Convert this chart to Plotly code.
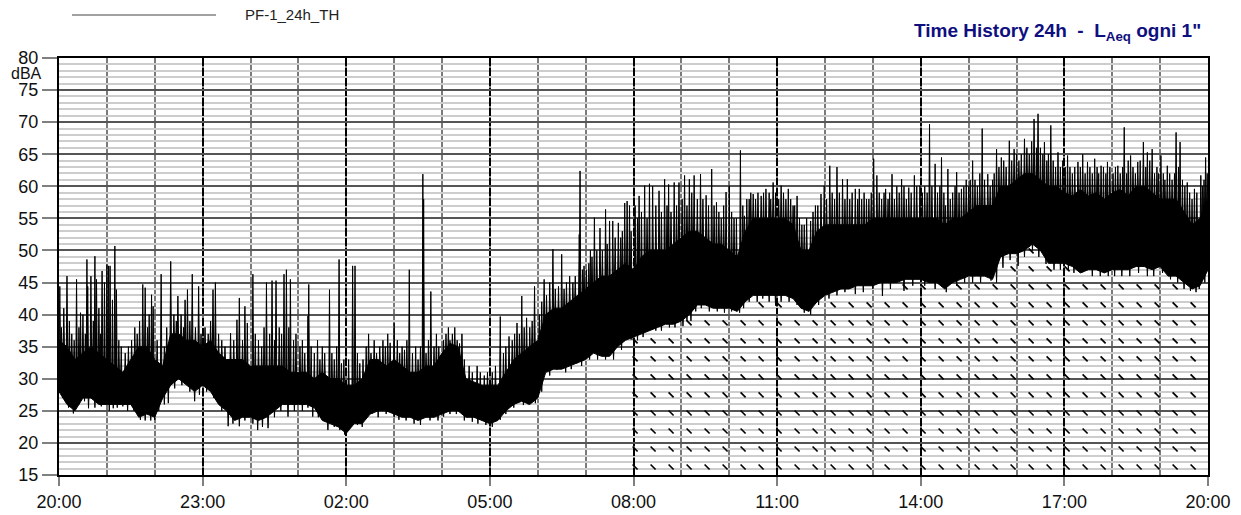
import numpy as np
import plotly.graph_objects as go

# ---------------- data ----------------
# 10-minute envelope (lower edge / top of the dense core) of the 1-second LAeq record,
# 20:00 -> 20:00 (145 samples)
band_lo = [28, 26, 25, 27, 27, 26, 26, 26, 26, 26, 24, 24.5, 24, 27, 29, 30, 29, 28,
           29, 28, 26, 25, 23.5, 24, 24, 23.5, 24, 25, 26, 26, 26, 26, 25.5, 23.5, 23, 22.5,
           21.5, 23, 23, 24.5, 25, 25, 24.5, 24, 24, 23.5, 24, 24, 24.5, 25, 25, 24, 24, 23.5,
           23, 23.5, 25, 26, 26.5, 26, 27, 31, 31.5, 31.5, 32, 32.5, 33, 34, 33.5, 33.5, 35, 36,
           36.5, 37, 37.5, 38, 38.5, 38.5, 39, 40, 41.5, 41.5, 41, 41, 41, 40.5, 42, 43, 43, 43,
           43, 43, 42.5, 41, 40.5, 42, 43, 43.5, 44, 44, 44.5, 44.5, 44.5, 45, 45, 45, 45.5, 45.5,
           45.5, 45, 45, 44, 45, 45.5, 46, 46, 46, 45.5, 49, 49.5, 49.5, 50, 51, 50, 48, 48,
           48, 47.5, 46.5, 47, 47, 46.5, 47, 47, 47, 47.5, 47.5, 47, 47.5, 46, 46, 45, 44, 44.5,
           47]
band_core = [36, 35, 33, 34, 35, 34, 33, 32, 31, 33, 35, 35, 33, 32, 37, 37, 36, 36,
             35, 36, 34, 33, 33, 33, 32, 32, 32, 32, 32, 31, 31, 31, 30, 31, 30, 30,
             29, 29, 30, 33, 33, 32, 33, 32, 31, 31, 32, 32, 34, 35.5, 35, 30, 29.5, 29,
             29, 29, 31, 33, 34, 35, 36, 40, 41, 41, 42, 43, 44, 45, 46, 46, 47, 48,
             47, 49, 50, 50, 50, 51, 52, 53, 53, 52, 51, 51, 50, 49, 53, 55, 55, 55,
             55, 55, 54, 50, 50, 53, 54, 54, 54, 54, 54, 54, 55, 55, 55, 55, 55, 55,
             55, 55, 55, 54, 55, 55, 56, 57, 57, 57, 60, 60, 61, 62, 62, 61, 60, 60,
             59, 58.5, 59.5, 58.5, 59, 58, 59, 59.5, 58.5, 60, 60, 59, 58, 58, 58, 56, 54, 55,
             58]

# peaks above the dense band (time, dBA)
spike_t = ["20:01", "20:10", "20:22", "20:27", "20:35", "20:36", "20:40", "20:45", "20:47",
           "20:54", "20:57", "21:00", "21:02", "21:04", "21:07", "21:10", "21:12", "21:45",
           "21:48", "21:56", "21:58", "22:08", "22:20", "22:29", "22:38", "22:41", "22:47",
           "22:55", "23:13", "23:16", "23:35", "23:43", "23:46", "23:53", "23:56", "00:03",
           "00:14", "00:20", "00:27", "00:32", "00:42", "00:45", "00:50", "01:12", "01:13",
           "01:33", "01:39", "01:45", "01:51", "01:54", "02:08", "02:11", "02:17", "02:31",
           "02:42", "02:55", "03:00", "03:13", "03:19", "03:36", "03:37", "03:46", "04:10",
           "04:22", "05:13", "05:24", "05:34", "05:40", "05:46", "05:56", "06:08", "06:15",
           "06:19", "06:26", "06:30", "06:52", "06:53", "06:58", "07:06", "07:11", "07:18",
           "07:25", "07:30", "07:34", "07:41", "07:49", "07:52", "07:55", "07:57",
           "08:02", "08:07", "08:14", "08:20", "08:24", "08:32", "08:39", "08:44", "08:51",
           "08:57", "09:04", "09:10", "09:16", "09:24", "09:31", "09:38", "09:44", "09:56",
           "10:00", "10:14", "10:19", "10:30", "10:40", "10:46", "10:55", "11:05", "11:14",
           "11:25", "11:42", "11:55", "11:59", "12:06", "12:15", "12:22", "12:28", "12:38",
           "12:43", "13:01", "13:05", "13:16", "13:24", "13:36", "13:45", "13:52", "13:59",
           "14:11", "14:18", "14:26", "14:34", "14:45", "14:51", "15:05", "15:17", "15:24",
           "15:35", "15:41", "15:51", "15:57", "16:10", "16:22", "16:27", "16:35", "16:43",
           "16:52", "17:04", "17:17", "17:23", "17:29", "17:38", "17:46", "17:54", "18:07",
           "18:15", "18:23", "18:32", "18:39", "18:44", "18:50", "19:01", "19:09", "19:20",
           "19:25", "19:34", "19:43", "19:51", "19:57"]
spike_v = [44.4, 46, 45.5, 40.3, 48.6, 44.4, 46, 49.1, 45.5,
           46.8, 45, 47.8, 47.6, 47.6, 42.3, 50.7, 43.9, 44.7,
           44.2, 43.1, 41.3, 46.3, 48.3, 42.9, 42.3, 43.9, 46.3,
           44.4, 43.9, 45, 37.1, 39.2, 42.6, 41.3, 38.7, 46.3,
           35, 45, 45.3, 45.3, 46.3, 47, 45.5, 39.8, 44.7,
           34, 43.9, 33, 48.6, 32.4, 47.6, 47.6, 32.4, 34,
           35, 35.6, 38.7, 34.5, 47, 61.9, 58, 43.6, 36,
           35.5, 39.7, 36.6, 38.7, 42.9, 39.5, 44.4, 45.5, 45,
           50.2, 44.4, 49.4, 52.5, 62.4, 47.6, 50, 55.1, 53.5,
           56.4, 54.6, 54.6, 54.3, 57.4, 57.7, 57, 53,
           57, 58.5, 60.1, 60.4, 60, 59.3, 61.1, 60.3, 60.6,
           60.6, 61.7, 61.1, 61.7, 61.9, 58.6, 62.7, 57.5, 59.1,
           60.1, 65.6, 55.4, 58.8, 58.5, 59.6, 60.6, 60.1, 59.6,
           58.5, 54.6, 58.8, 60.1, 63.2, 63, 61.1, 61.1, 59.6,
           59.6, 64.3, 61.7, 59.6, 61.9, 61.1, 59.8, 61.7, 60.1,
           69.7, 63.5, 64.5, 62.7, 62.2, 59.6, 64, 69, 61.9,
           65.8, 64.5, 67.1, 65.8, 67.4, 70.5, 71.3, 66.9, 69.5,
           65.3, 64.8, 63.8, 65, 63.8, 64.3, 63.2, 63.8, 63.2,
           69.2, 64.8, 63.8, 66.9, 65.3, 65.8, 64.8, 63.2, 68.4,
           66.9, 60.6, 59.6, 61.7, 64.5]

# smaller peaks that make up the ragged top of the band
minor_t = ["20:03", "20:06", "20:13", "20:16", "20:19", "20:25", "20:30", "20:33", "20:43",
           "20:50", "20:52", "21:15", "21:18", "21:23", "21:27", "21:31", "21:35", "21:38",
           "21:41", "21:51", "21:53", "22:03", "22:12", "22:15", "22:24", "22:27", "22:33",
           "22:36", "22:44", "22:51", "22:58", "23:03", "23:07", "23:10", "23:20", "23:24",
           "23:28", "23:39", "23:50", "00:06", "00:10", "00:17", "00:24", "00:30", "00:36",
           "00:39", "00:48", "00:54", "00:57", "01:02", "01:05", "01:08", "01:16", "01:20",
           "01:24", "01:27", "01:30", "01:42", "01:48", "01:57",
           "02:03", "02:14", "02:21", "02:25", "02:28", "02:35", "02:38", "02:46", "02:49",
           "02:52", "03:04", "03:07", "03:10", "03:16", "03:23", "03:27", "03:30", "03:33",
           "03:40", "03:43", "03:50", "03:53", "03:56", "04:02", "04:05", "04:08", "04:13",
           "04:16", "04:19", "04:25", "04:28", "04:34", "04:38", "04:44", "04:48", "04:53",
           "04:57", "05:03", "05:07", "05:17", "05:20", "05:28", "05:31", "05:37", "05:43",
           "05:50", "05:53", "06:02", "06:05", "06:11", "06:22", "06:33", "06:36", "06:40",
           "06:44", "06:47", "06:56", "07:01", "07:04", "07:08", "07:14", "07:21", "07:27",
           "07:37", "07:44", "07:46",
           "08:05", "08:10", "08:17", "08:28", "08:35", "08:42", "08:47", "08:54", "09:01",
           "09:07", "09:13", "09:20", "09:27", "09:34", "09:41", "09:47", "09:50", "09:53",
           "10:03", "10:06", "10:09", "10:17", "10:22", "10:25", "10:27", "10:33", "10:36",
           "10:43", "10:50", "10:52", "10:58", "11:02", "11:08", "11:11", "11:17", "11:20",
           "11:22", "11:28", "11:31", "11:34", "11:37", "11:45", "11:48", "11:51", "12:02",
           "12:09", "12:12", "12:18", "12:25", "12:31", "12:34", "12:41", "12:46", "12:49",
           "12:52", "12:55", "12:58", "13:08", "13:11", "13:14", "13:19", "13:21", "13:27",
           "13:30", "13:33", "13:39", "13:42", "13:48", "13:55",
           "14:02", "14:05", "14:08", "14:14", "14:21", "14:24", "14:29", "14:31", "14:37",
           "14:40", "14:43", "14:48", "14:54", "14:57", "15:00", "15:02", "15:08", "15:11",
           "15:14", "15:20", "15:27", "15:30", "15:32", "15:38", "15:44", "15:47", "15:54",
           "16:00", "16:03", "16:06", "16:13", "16:16", "16:19", "16:25", "16:30", "16:33",
           "16:38", "16:40", "16:46", "16:49", "16:55", "16:58", "17:01", "17:07", "17:10",
           "17:13", "17:20", "17:26", "17:32", "17:35", "17:41", "17:43", "17:49", "17:52",
           "17:57", "18:01", "18:04", "18:10", "18:13", "18:18", "18:20", "18:26", "18:29",
           "18:35", "18:42", "18:47", "18:53", "18:56", "18:58", "19:04", "19:06", "19:12",
           "19:15", "19:18", "19:23", "19:28", "19:31", "19:37", "19:40", "19:46", "19:53",
           "19:55", "19:59"]
minor_v = [38, 41, 39, 37, 36, 38, 40, 37, 39,
           41, 37, 36, 35, 34, 35, 36, 38, 37,
           39, 38, 40, 36, 35, 38, 40, 39, 40,
           38, 39, 38, 37, 38, 37, 39, 37, 36,
           35, 36, 36, 37, 36, 38, 37, 36, 38,
           37, 38, 36, 37, 35, 36, 34, 35, 34,
           36, 33, 35, 34, 35, 33,
           33, 34, 33, 35, 37, 36, 34, 36, 35,
           37, 36, 34, 35, 36, 34, 35, 33, 35,
           34, 36, 35, 37, 35, 36, 37, 38, 37,
           38, 36, 37, 33, 32, 31, 32, 31, 30.5,
           31, 31, 32, 34, 35, 36, 37, 37, 38,
           38, 39, 40, 42, 43, 44, 44, 45, 46,
           45, 46, 47, 47, 48, 49, 50, 50, 51,
           52, 52, 53,
           55, 56, 55, 57, 56, 57, 56, 57, 58,
           57, 59, 58, 58, 57, 57, 56, 55, 57,
           56, 55, 55, 57, 58, 58, 59, 58, 59,
           59, 59, 58, 59, 58, 59, 58, 58, 57,
           57, 55, 54, 54, 55, 56, 57, 57, 58,
           59, 58, 59, 58, 58, 59, 58, 58, 59,
           58, 58, 59, 59, 58, 59, 58, 59, 58,
           60, 59, 60, 58, 59, 60,
           59, 60, 59, 60, 59, 60, 59, 57, 58,
           59, 60, 59, 60, 61, 60, 61, 61, 60,
           62, 61, 60, 61, 62, 63, 64, 63, 64,
           65, 64, 65, 66, 65, 67, 66, 66, 65,
           64, 65, 64, 63, 63, 64, 63, 63, 62,
           63, 63, 62, 63, 62, 63, 62, 63, 62,
           63, 62, 63, 62, 63, 62, 64, 63, 62,
           64, 63, 64, 62, 63, 62, 62, 61, 62,
           61, 62, 63, 61, 60, 59, 58, 59, 60,
           61, 62]

# minima below the dense band (time, dBA)
dip_t = ["20:05", "20:12", "20:18", "20:25", "20:32", "20:37", "20:45", "20:53", "21:03",
         "21:08", "21:13", "21:20", "21:26", "21:34", "21:42", "21:48", "21:55", "22:00",
         "22:05", "22:12", "22:17", "22:25", "22:34", "22:44", "22:50", "22:56", "23:05",
         "23:14", "23:24", "23:32", "23:38", "23:46", "23:53", "00:03", "00:09", "00:15",
         "00:22", "00:30", "00:38", "00:47", "00:55", "01:05", "01:12", "01:18", "01:25",
         "01:37", "01:45", "01:52", "01:58", "02:05", "02:14", "02:20", "02:33", "02:40",
         "02:50", "03:00", "03:06", "03:15", "03:25", "03:33", "03:45", "03:55", "04:02",
         "04:10", "04:18", "04:28", "04:38", "04:45", "04:55", "05:03", "05:13", "05:20",
         "05:30", "05:42", "05:48", "05:57", "06:05", "06:15", "06:24", "06:35", "06:42",
         "06:49", "06:55", "07:05", "07:15", "07:25", "07:35", "07:45", "07:57", "08:05",
         "08:12", "08:20", "08:28", "08:35", "08:45", "08:52", "09:02", "09:07", "09:12",
         "09:18", "09:25", "09:35", "09:45", "09:54", "10:03", "10:13", "10:18", "10:25",
         "10:35", "10:42", "10:50", "10:58", "11:05", "11:15", "11:25", "11:34", "11:42",
         "11:52", "12:05", "12:15", "12:25", "12:38", "12:48", "13:00", "13:12", "13:22",
         "13:39", "13:50", "14:05", "14:18", "14:32", "14:45", "14:55", "15:05", "15:15",
         "15:28", "15:35", "15:43", "15:52", "16:02", "16:10", "16:20", "16:28", "16:37",
         "16:47", "16:55", "17:05", "17:12", "17:23", "17:35", "17:45", "17:55", "18:03",
         "18:12", "18:22", "18:33", "18:44", "18:52", "19:03", "19:13", "19:22", "19:30",
         "19:38", "19:45", "19:49", "19:56"]
dip_v = [27, 25.5, 24.6, 26, 26.5, 25.4, 25.5, 25.7, 25,
         25.4, 25.5, 25.7, 25, 25, 23.6, 23.5, 23.5, 23.6,
         25, 26, 26.2, 28.5, 29, 28, 26.5, 27.5, 28,
         27, 25, 22.6, 23, 22.6, 23.5, 23, 22, 22.5,
         22.3, 24, 25, 24.1, 25, 25, 25.5, 24.1, 24,
         22, 22.5, 22, 21.3, 22.5, 22.8, 22.5, 24.6, 24,
         24.5, 24, 23.6, 23.5, 23, 22.8, 23.5, 23.5, 24.1,
         24.5, 24.5, 23.5, 23.3, 23, 22.8, 22.5, 23.6, 24.5,
         25.5, 25.9, 26, 26.2, 28, 30.5, 31.4, 31, 31.5,
         32.4, 32, 33, 33, 33, 33, 34.5, 36.1, 36,
         36.5, 37.7, 37.5, 37.5, 38, 38, 38.2, 39, 39,
         40.5, 41, 40.5, 40.5, 40.3, 40.5, 40.3, 41, 42,
         42, 42.5, 42, 41.4, 42, 42, 41.5, 40.3, 40,
         41.5, 42.5, 43, 43.5, 43.2, 43.5, 44, 42.9, 44,
         43.7, 44.5, 44.5, 44, 43.5, 44.5, 45, 45, 45,
         45.3, 45, 47.3, 48.5, 47.6, 49, 50, 49, 47.9,
         47, 47, 47, 46.5, 46.6, 46, 46, 46, 46,
         46, 46, 46.5, 46, 46, 46.5, 45.5, 45, 44,
         43.7, 43.5, 44, 45]

x_tick_text = ["20:00", "23:00", "02:00", "05:00", "08:00", "11:00", "14:00", "17:00", "20:00"]
y_tick_vals = [15, 20, 25, 30, 35, 40, 45, 50, 55, 60, 65, 70, 75, 80]
series_name = "PF-1_24h_TH"


# ---------------- helpers ----------------
def off_min(hhmm):
    h, m = map(int, hhmm.split(":"))
    return float((h * 60 + m - 20 * 60) % 1440)


band_x = np.arange(len(band_lo)) * 10.0          # minutes after 20:00
lo = np.array(band_lo, float)
core = np.array(band_core, float)


def strokes(times, values, ref, shift, hw):
    xs, ys = [], []
    for t, v in zip(times, values):
        o = off_min(t)
        b = float(np.interp(o, band_x, ref)) + shift
        xs += [o - hw, o, o + hw, None]
        ys += [b, v, b, None]
    return xs, ys


sx, sy = strokes(spike_t, spike_v, core, -1.5, 0.9)
mx, my = strokes(minor_t, minor_v, core, -1.5, 0.9)
dx, dy = strokes(dip_t, dip_v, lo, 1.5, 0.9)

# hatch marks of the highlighted period (08:00 -> 20:00), below the curve
HATCH_DT, HATCH_DV = 22.56, 2.806
cols = np.arange(722.0, 1437.0, HATCH_DT)
rows = np.arange(16.25, 80.0, HATCH_DV)
hx, hy = [], []
for c in cols:
    lim = float(np.interp(c, band_x, lo)) - 0.7
    for r in rows:
        if r < lim:
            hx.append(c)
            hy.append(r)

fig = go.Figure()
fig.add_trace(go.Scatter(x=hx, y=hy, mode="markers", hoverinfo="skip", showlegend=False,
                         marker=dict(symbol="line-nw", size=5, color="black",
                                     line=dict(color="black", width=1.7))))
fig.add_trace(go.Scatter(x=np.concatenate([band_x, band_x[::-1]]),
                         y=np.concatenate([core, lo[::-1]]),
                         fill="toself", fillcolor="black", mode="lines",
                         line=dict(color="black", width=1), showlegend=False,
                         name=series_name))
for xs, ys in ((mx, my), (sx, sy), (dx, dy)):
    fig.add_trace(go.Scatter(x=xs, y=ys, mode="lines", fill="toself", fillcolor="black",
                             line=dict(color="black", width=1), showlegend=False,
                             hoverinfo="skip"))

# ---------------- layout ----------------
FONT = "Liberation Sans, Arial, sans-serif"
W, H = 1241, 515
L, T = 59, 58                  # plot area: x 59..1208, y 58..475
R, B = W - 1208, H - 475
PW, PH = W - L - R, H - T - B


def px(xp):                    # pixel -> paper x
    return (xp - L) / PW


def py(yp):                    # pixel -> paper y
    return (H - B - yp) / PH


fig.update_layout(
    width=W, height=H,
    margin=dict(l=L, r=R, t=T, b=B, pad=0, autoexpand=False),
    paper_bgcolor="white", plot_bgcolor="white",
    showlegend=False,
    font=dict(family=FONT, size=18, color="#111111"),
    xaxis=dict(range=[0, 1440], tickmode="array", tickvals=[i * 180 for i in range(9)],
               ticktext=x_tick_text, ticks="outside", ticklen=9, tickwidth=1.5,
               tickcolor="#808080",
               showgrid=True, gridcolor="black", gridwidth=2,
               griddash="8px,2px", zeroline=False, showline=True, mirror=True,
               linecolor="black", linewidth=2,
               minor=dict(dtick=60, tick0=0, showgrid=True, gridcolor="#7a7a7a",
                          gridwidth=1.5, griddash="solid", ticks=""),
               tickfont=dict(size=18, family=FONT, color="#111111")),
    yaxis=dict(range=[15, 80], tickmode="array", tickvals=y_tick_vals, ticks="outside",
               ticklen=15, tickwidth=1.5, tickcolor="#808080", showgrid=True,
               gridcolor="#555555", gridwidth=1.5, zeroline=False, showline=True,
               mirror=True, linecolor="black", linewidth=2,
               minor=dict(dtick=1, tick0=15, showgrid=True, gridcolor="#cdcdcd",
                          gridwidth=1.5, griddash="solid", ticks=""),
               tickfont=dict(size=18, family=FONT, color="#111111")),
)

fig.add_shape(type="line", xref="paper", yref="paper", x0=px(72), x1=px(216),
              y0=py(15), y1=py(15), line=dict(color="#444444", width=1))
fig.add_annotation(xref="paper", yref="paper", x=px(243), y=py(15), xanchor="left",
                   yanchor="middle", text=series_name, showarrow=False,
                   font=dict(family=FONT, size=15, color="#222222"))
fig.add_annotation(xref="paper", yref="paper", x=px(44), y=py(73), xanchor="right",
                   yanchor="middle", text="dBA", showarrow=False,
                   font=dict(family=FONT, size=16, color="#111111"))
fig.add_annotation(xref="paper", yref="paper", x=px(1203), y=py(32), xanchor="right",
                   yanchor="middle", showarrow=False,
                   text="<b>Time History 24h  -  L<sub>Aeq</sub> ogni 1\"</b>",
                   font=dict(family="Liberation Sans Narrow, Arial Narrow, Liberation Sans, Arial",
                             size=19, color="#0f0f80"))

# the page's default body margin would shift the figure; remove it
fig.write_html("out.html", config={"displayModeBar": False},
               post_script="document.body.style.margin='0';document.body.style.overflow='hidden';")
